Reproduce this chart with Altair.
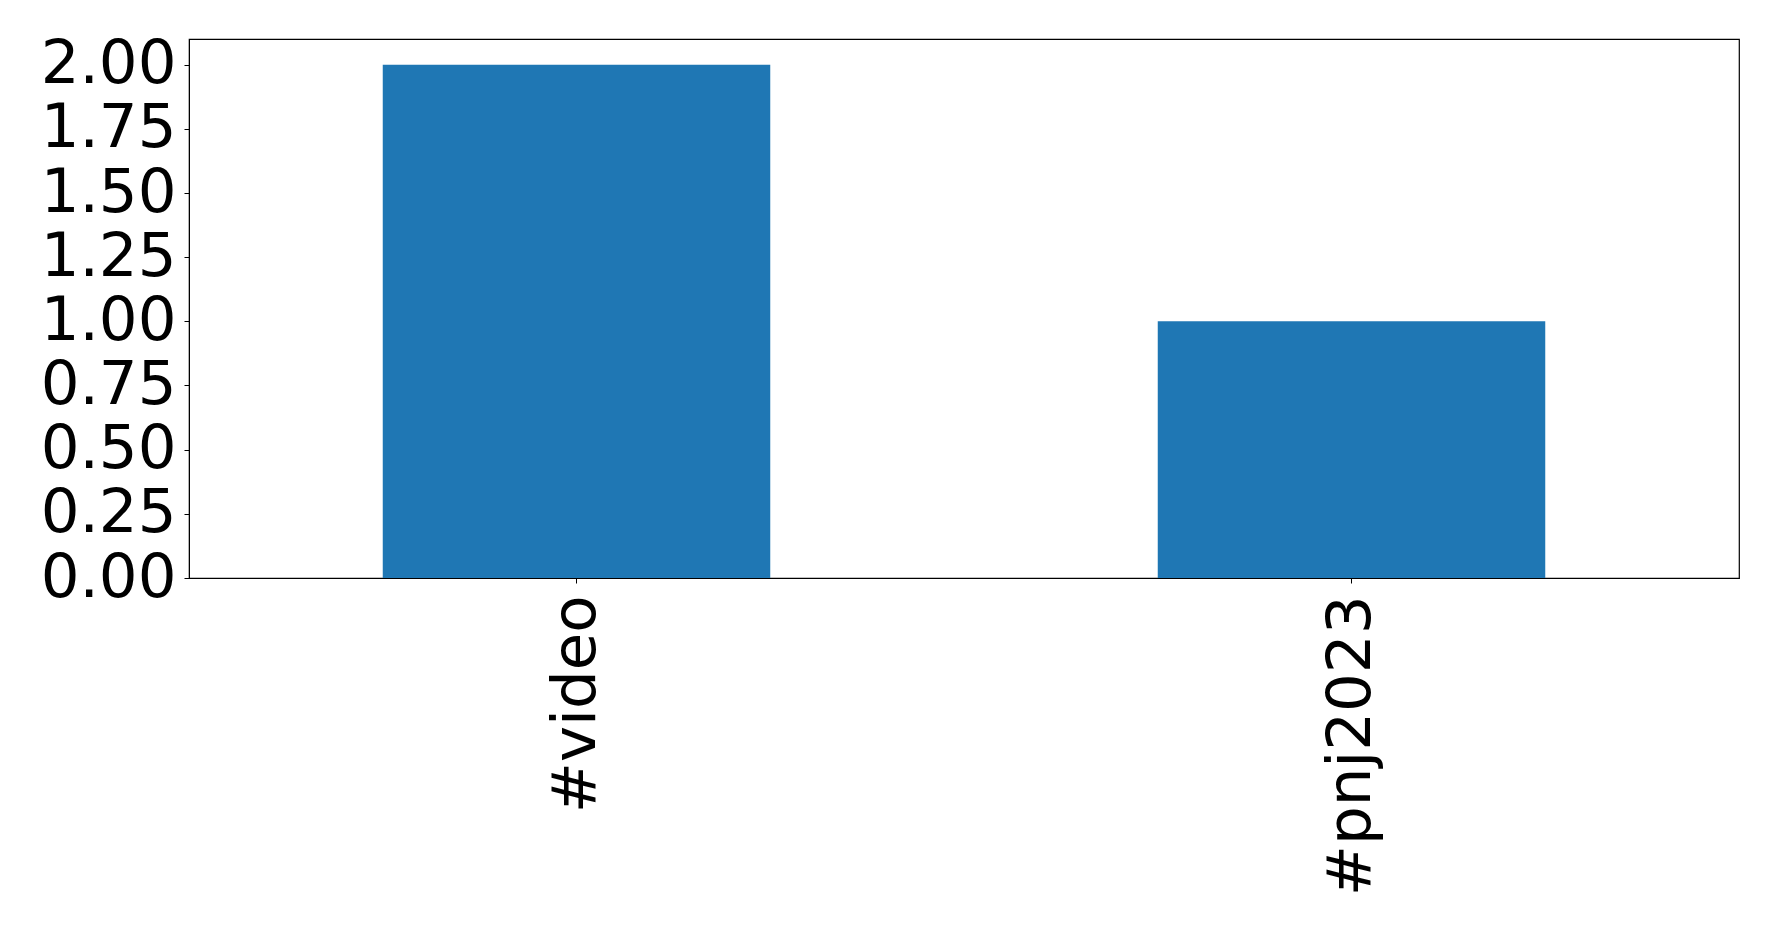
import altair as alt
import pandas as pd

categories = ["#video", "#pnj2023"]
values = [2, 1]

df = pd.DataFrame({"tag": categories, "count": values})

chart = alt.Chart(df).mark_bar(color="#1f77b4").encode(
    x=alt.X("tag:N", sort=categories, title=None,
            scale=alt.Scale(paddingInner=0.5, paddingOuter=0.25),
            axis=alt.Axis(labelAngle=270, labelFontSize=61, labelFont="DejaVu Sans",
                          labelColor="black", tickColor="black", tickSize=5,
                          domainColor="black", labelPadding=12, labelOverlap=False,
                          labelLimit=1000)),
    y=alt.Y("count:Q", title=None,
            scale=alt.Scale(domain=[0, 2.1], nice=False),
            axis=alt.Axis(values=[0, 0.25, 0.5, 0.75, 1, 1.25, 1.5, 1.75, 2.0],
                          format=".2f", labelFontSize=61, labelFont="DejaVu Sans",
                          labelColor="black", tickColor="black", tickSize=5,
                          domainColor="black", grid=False, labelPadding=8,
                          labelOverlap=False, labelFlush=False, labelLimit=1000)),
).properties(
    width=1550, height=539,
    autosize=alt.AutoSizeParams(type="none"),
    padding={"left": 181, "top": 31, "right": 20, "bottom": 320},
).configure_view(stroke="black", strokeWidth=1.2)

chart.save("out.html", embed_options={"renderer": "svg", "actions": False})
